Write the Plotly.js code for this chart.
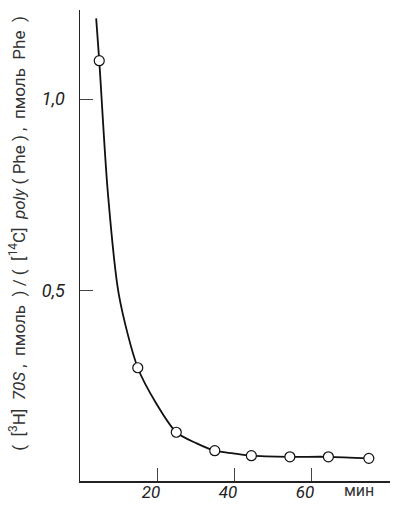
<!DOCTYPE html>
<html>
<head>
<meta charset="utf-8">
<script src="https://cdn.plot.ly/plotly-3.0.1.min.js"></script>
<style>html,body{margin:0;padding:0;background:#fff;}#chart{width:405px;height:508px;}</style>
</head>
<body>
<div id="chart"></div>
<script>
// measured points (time, min; ratio)
const timeMin = [5, 15, 25, 35, 44.5, 54.5, 64.5, 75];
const ratio = [1.10, 0.30, 0.132, 0.084, 0.071, 0.068, 0.068, 0.064];
// hand-drawn fitted curve
const curveX = [4.2, 5, 7.2, 10.1, 15, 19.8, 25, 30.3, 35, 39.8, 44.5, 54.5, 64.5, 75];
const curveY = [1.21, 1.10, 0.76, 0.49, 0.30, 0.207, 0.132, 0.103, 0.084, 0.077, 0.071, 0.068, 0.068, 0.064];
const xTicks = [20, 40, 60];
const yTicks = [0.5, 1.0];
const xUnit = 'мин';
const yTitle = '(  [<sup>3</sup>H]  <i>70S</i> ,  пмоль  ) / (  [<sup>14</sup>C]  <i>poly</i> ( Phe ) ,  пмоль  Phe  )';

const FONT = 'Roboto, "Liberation Sans", sans-serif';

const traces = [
  {x: curveX, y: curveY, mode: 'lines', line: {color: '#111', width: 1.8, shape: 'spline', smoothing: 0.8}, hoverinfo: 'skip', showlegend: false},
  {x: timeMin, y: ratio, mode: 'markers', marker: {symbol: 'circle', size: 10, color: '#fff', line: {color: '#111', width: 1.2}}, showlegend: false}
];

const layout = {
  width: 405, height: 508,
  margin: {l: 80, r: 15, t: 10, b: 27},
  paper_bgcolor: '#fff', plot_bgcolor: '#fff',
  separators: ', ',
  font: {family: FONT, color: '#222', size: 16},
  xaxis: {
    range: [0, 80.5], showgrid: false, zeroline: false,
    showline: true, linecolor: '#222', linewidth: 1.5,
    ticks: 'inside', ticklen: 13, tickwidth: 1, tickcolor: '#444',
    tickvals: xTicks, ticktext: xTicks.map(String),
    tickfont: {family: FONT, size: 17, style: 'italic', color: '#222'},
    ticklabelstandoff: -5, ticklabelshift: -6
  },
  yaxis: {
    range: [0.005, 1.232], showgrid: false, zeroline: false,
    showline: true, linecolor: '#222', linewidth: 1.5,
    ticks: 'inside', ticklen: 13, tickwidth: 1, tickcolor: '#444',
    tickvals: yTicks, tickformat: '.1f',
    tickfont: {family: FONT, size: 18, style: 'italic', color: '#222'},
    ticklabelstandoff: 10,
    title: {text: yTitle, font: {family: FONT, size: 17, color: '#333'}, standoff: 12}
  },
  annotations: [
    {x: 72.5, y: 0, xref: 'x', yref: 'paper', yanchor: 'top', yshift: 2, text: xUnit, showarrow: false,
     font: {family: FONT, size: 16, color: '#333'}}
  ]
};

Plotly.newPlot('chart', traces, layout, {displayModeBar: false, staticPlot: true}).then(function (gd) {
  // nudge the rotated y-axis title up a little (translate is in the rotated frame)
  const t = gd.querySelector('.g-ytitle text');
  if (t) { t.setAttribute('transform', (t.getAttribute('transform') || '') + ' translate(12,0)'); }
});
</script>
</body>
</html>
